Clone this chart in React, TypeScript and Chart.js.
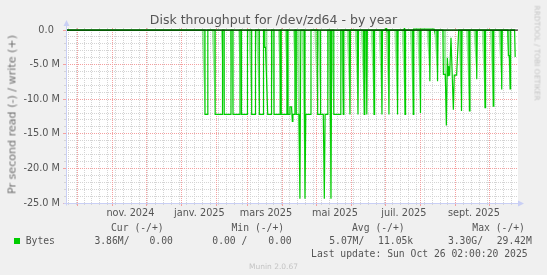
import React, { useEffect, useRef } from 'react';
import { Chart, registerables } from 'chart.js';

Chart.register(...registerables);

// ---- time axis: days since 2024-09-21 (graph spans 400 days, last update 2025-10-26)
const START = Date.UTC(2024, 8, 21);
const SPAN_DAYS = 400;
const dayOf = (y: number, m: number, d: number) => (Date.UTC(y, m - 1, d) - START) / 86400000;

const xLabels = ['nov. 2024', 'janv. 2025', 'mars 2025', 'mai 2025', 'juil. 2025', 'sept. 2025'];
const xLabelMonths: [number, number][] = [[2024, 11], [2025, 1], [2025, 3], [2025, 5], [2025, 7], [2025, 9]];
const monthGrid: [number, number][] = [
  [2024, 10], [2024, 11], [2024, 12], [2025, 1], [2025, 2], [2025, 3], [2025, 4],
  [2025, 5], [2025, 6], [2025, 7], [2025, 8], [2025, 9], [2025, 10],
];
const yMajorTicks = [-25, -20, -15, -10, -5, 0];

// ---- read (plotted negative), in M bytes/s, change points
const readDay = [
  0, 123, 123, 125.5, 125.5, 132, 132, 138.5, 138.5, 140, 140, 146, 146,
  147.8, 147.8, 154, 154, 155.3, 155.3, 160.6, 160.6, 164.3, 164.3, 167.7, 167.7,
  171.1, 171.1, 174.8, 174.8, 175.5, 175.5, 176.6, 178.5, 181.9, 181.9,
  184.1, 184.1, 189.5, 189.5, 190.5, 190.5, 195.5, 195.5, 196.5, 196.5, 197.8,
  198.2, 199.6, 200.3, 200.8, 202.6, 202.6, 203.8, 203.8, 206.2, 207, 207.8,
  210.8, 211.5, 212.2, 216.8, 216.8, 222.7, 222.7, 224.8, 224.8, 225.5, 225.5,
  227.7, 228.6, 229.3, 231.7, 231.7, 233.8, 234.5, 235.2, 237, 237, 243.2, 243.2,
  244.9, 245.4, 245.9, 250.8, 251.3, 251.8, 257.9, 258.4, 258.9,
  263.4, 263.9, 264.4, 265.7, 266.2, 266.7, 272.1, 272.6, 273.1,
  279.1, 279.6, 280.1, 285.3, 285.8, 286.3, 292.9, 293.4, 293.9,
  299.5, 300, 300.5, 306.8, 307.3, 307.8, 313.2, 313.7, 314.2,
  321.5, 322, 322.5, 328.3, 328.8, 329.3,
  333.5, 334, 335.7, 336.6, 337.5, 338.2, 338.6, 339.5, 340.7, 342.8, 343.6, 345.7, 347.5,
  349.5, 350, 350.5, 356.5, 357, 357.5, 363, 363.5, 364, 370.3, 370.8, 371.3,
  377.6, 378.1, 378.6, 385.1, 385.6, 386.1,
  391, 391.5, 392.5, 393, 393.5, 397, 397.5,
];
const readMB = [
  0, 0, -12.2, -12.2, 0, 0, -12.2, -12.2, 0, 0, -12.2, -12.2, 0,
  0, -12.2, -12.2, 0, 0, -12.2, -12.2, 0, 0, -12.2, -12.2, 0,
  0, -12.2, -12.2, 0, 0, -2.5, -2.5, -12.2, -12.2, 0,
  0, -12.2, -12.2, 0, 0, -12.2, -12.2, 0, 0, -12.2, -12.2,
  -11.1, -11.1, -13.2, -12.2, -12.2, 0, 0, -12.2, -12.2, -24.4, 0,
  0, -24.4, -12.2, -12.2, 0, 0, -12.2, -12.2, 0, 0, -12.2,
  -12.2, -24.4, -12.2, -12.2, 0, 0, -24.4, 0, 0, -12.2, -12.2, 0,
  0, -12.2, 0, 0, -12.2, 0, 0, -12.2, 0,
  0, -12.2, 0, 0, -12.2, 0, 0, -12.2, 0,
  0, -12.2, 0, 0, -12.2, 0, 0, -12.2, 0,
  0, -12.2, 0, 0, -12.2, 0, 0, -12.0, 0,
  0, -7.4, 0, 0, -7.4, 0,
  0, -6.4, -6.4, -13.8, -4.0, -6.6, -5.2, -6.6, -1.1, -11.5, -6.5, -6.5, 0,
  0, -11.7, 0, 0, -11.7, 0, 0, -7.1, 0, 0, -11.2, 0,
  0, -11.0, 0, 0, -8.6, 0,
  0, -3.7, -3.7, -8.5, 0, 0, -3.9,
];

// ---- pale shading seen just before each drop: [day of drop, depth in M]
const hazeDay = [
  123, 132, 140, 147.8, 155.3, 164.3, 171.1, 178.5, 184.1, 190.5, 196.5, 203.8, 207, 211.5,
  222.7, 225.5, 234.5, 237, 245.4, 251.3, 258.4, 263.9, 266.2, 272.6, 279.6, 285.8, 293.4,
  300, 307.3, 313.7, 322, 328.8, 336.6, 350, 357, 363.5, 370.8, 378.1, 385.6, 393,
];
const hazeMB = [
  -12.2, -12.2, -12.2, -12.2, -12.2, -12.2, -12.2, -12.2, -12.2, -12.2, -12.2, -12.2, -24.4, -24.4,
  -12.2, -12.2, -24.4, -12.2, -12.2, -12.2, -12.2, -12.2, -12.2, -12.2, -12.2, -12.2, -12.2,
  -12.2, -12.2, -12.0, -7.4, -7.4, -13.8, -11.7, -11.7, -7.1, -11.2, -11.0, -8.6, -8.5,
];

// ---- write (plotted positive), in M bytes/s
const writeDay = [0, 282.6, 283.2, 283.8, 299, 299.4, 299.8, 307.4, 307.6, 325.7, 325.9, 397.5];
const writeMB = [0, 0, 0.3, 0, 0, 0.25, 0, 0, 0.15, 0.15, 0, 0];

// ---- zero rule
const zeroDay = [0, SPAN_DAYS];
const zeroMB = [0, 0];

const GREEN = '#00cc00';
const GRID_MINOR = '#d4d4d4';
const GRID_MAJOR = '#f4a0a0';
const AXIS = '#c9cff5';
const FONT = '"DejaVu Sans", sans-serif';
const MONO = '"DejaVu Sans Mono", monospace';
const TEXT = '#555555';

const bgPlugin = {
  id: 'plotBg',
  beforeDraw(chart: any) {
    const { ctx, chartArea: a } = chart;
    ctx.save();
    ctx.fillStyle = '#f0f0f0';
    ctx.fillRect(0, 0, chart.width, chart.height);
    ctx.fillStyle = '#ffffff';
    ctx.fillRect(a.left, a.top, a.right - a.left, a.bottom - a.top);
    ctx.restore();
  },
  afterDatasetsDraw(chart: any) {
    const { ctx, chartArea: a } = chart;
    ctx.save();
    ctx.strokeStyle = AXIS;
    ctx.fillStyle = AXIS;
    ctx.lineWidth = 1;
    const bx = Math.round(a.left) + 0.5;
    const by = Math.round(a.bottom) + 0.5;
    ctx.beginPath();
    ctx.moveTo(bx, by + 2);
    ctx.lineTo(bx, a.top - 3);
    ctx.moveTo(bx - 3, by);
    ctx.lineTo(a.right + 1, by);
    ctx.stroke();
    ctx.beginPath();
    ctx.moveTo(bx, a.top - 8);
    ctx.lineTo(bx - 3, a.top - 2);
    ctx.lineTo(bx + 3, a.top - 2);
    ctx.closePath();
    ctx.fill();
    ctx.beginPath();
    ctx.moveTo(a.right + 6, by);
    ctx.lineTo(a.right, by - 3);
    ctx.lineTo(a.right, by + 3);
    ctx.closePath();
    ctx.fill();
    ctx.restore();
  },
};

function T(props: { x: number; y: number; children: React.ReactNode; font?: string; size?: number; color?: string; lh?: number }) {
  const { x, y, children, font = MONO, size = 9.72, color = TEXT, lh = 12 } = props;
  return (
    <div
      style={{
        position: 'absolute', left: x, top: y, fontFamily: font, fontSize: size,
        lineHeight: lh + 'px', color, whiteSpace: 'pre',
      }}
    >
      {children}
    </div>
  );
}

export default function App() {
  const ref = useRef<HTMLCanvasElement>(null);

  useEffect(() => {
    const canvas = ref.current;
    if (!canvas) return;
    const pts = (xs: number[], ys: number[]) => xs.map((d, i) => ({ x: d, y: ys[i] }));
    const labelDays = xLabelMonths.map(([y, m]) => dayOf(y, m, 1) + 16);
    const monthDays = monthGrid.map(([y, m]) => dayOf(y, m, 1)).filter((d) => d >= 0 && d <= SPAN_DAYS);
    const weekDays: number[] = [];
    for (let d = dayOf(2024, 9, 23); d <= SPAN_DAYS; d += 7) weekDays.push(d);
    const yMinor: number[] = [];
    for (let v = -25; v <= 0; v += 1) if (v % 5 !== 0) yMinor.push(v);

    // pale wedges: start at 0 a little before the drop, reach the depth at the drop
    const haze: any[] = [];
    hazeDay.forEach((d, i) => {
      haze.push({ x: d - 3, y: 0 }, { x: d, y: hazeMB[i] }, { x: d, y: 0 }, { x: d + 0.01, y: null });
    });

    const lineDs = (data: any, color: string, width: number) => ({
      data, borderColor: color, borderWidth: width, pointRadius: 0, tension: 0, fill: false,
      borderJoinStyle: 'miter' as const,
    });

    const chart = new Chart(canvas, {
      type: 'line',
      data: {
        datasets: [
          lineDs(pts(zeroDay, zeroMB), '#000000', 1),
          lineDs(pts(writeDay, writeMB), GREEN, 1.2),
          lineDs(pts(readDay, readMB), GREEN, 1.2),
          {
            data: haze, borderWidth: 0, borderColor: 'rgba(0,0,0,0)', pointRadius: 0, tension: 0,
            fill: 'origin', backgroundColor: 'rgba(0,204,0,0.4)', spanGaps: false,
          },
        ],
      },
      options: {
        animation: false,
        responsive: false,
        devicePixelRatio: 1,
        events: [],
        layout: { padding: { top: 28, right: 29, left: 0, bottom: 0 } },
        plugins: { legend: { display: false }, title: { display: false }, tooltip: { enabled: false } },
        scales: {
          xMinor: {
            type: 'linear', position: 'bottom', min: 0, max: SPAN_DAYS, weight: 0,
            afterBuildTicks: (s: any) => { s.ticks = weekDays.map((v) => ({ value: v })); },
            afterFit: (s: any) => { s.height = 0; },
            grid: { color: GRID_MINOR, drawTicks: true, tickLength: 2, tickColor: GRID_MINOR },
            border: { display: false, dash: [1, 1] },
            ticks: { display: false },
          },
          yMinor: {
            type: 'linear', position: 'left', min: -25, max: 0.3, weight: 0,
            afterBuildTicks: (s: any) => { s.ticks = yMinor.map((v) => ({ value: v })); },
            afterFit: (s: any) => { s.width = 0; },
            grid: { color: GRID_MINOR, drawTicks: true, tickLength: 2, tickColor: GRID_MINOR },
            border: { display: false, dash: [1, 1] },
            ticks: { display: false },
          },
          xMajor: {
            type: 'linear', position: 'bottom', min: 0, max: SPAN_DAYS, weight: 1,
            afterBuildTicks: (s: any) => { s.ticks = monthDays.map((v) => ({ value: v })); },
            afterFit: (s: any) => { s.height = 0; },
            grid: { color: GRID_MAJOR, drawTicks: true, tickLength: 3, tickColor: GRID_MAJOR },
            border: { display: false, dash: [1, 1] },
            ticks: { display: false },
          },
          x: {
            type: 'linear', position: 'bottom', min: 0, max: SPAN_DAYS, weight: 10,
            afterBuildTicks: (s: any) => { s.ticks = labelDays.map((v) => ({ value: v })); },
            afterFit: (s: any) => { s.height = 72; },
            grid: { display: false, drawTicks: false },
            border: { display: false },
            ticks: {
              padding: 5, autoSkip: false, maxRotation: 0, color: TEXT,
              font: { family: FONT, size: 9.72 },
              callback: (_v: any, i: number) => xLabels[i],
            },
          },
          y: {
            type: 'linear', position: 'left', min: -25, max: 0.3, weight: 10,
            afterBuildTicks: (s: any) => { s.ticks = yMajorTicks.map((v) => ({ value: v })); },
            afterFit: (s: any) => { s.width = 66; },
            grid: { color: GRID_MAJOR, drawTicks: true, tickLength: 3, tickColor: GRID_MAJOR },
            border: { display: false, dash: [1, 1] },
            ticks: {
              padding: 3, color: TEXT, font: { family: FONT, size: 9.72 },
              callback: (v: any) => (v === 0 ? '0.0  ' : `${Number(v).toFixed(1)} M`),
            },
          },
        },
      } as any,
      plugins: [bgPlugin],
    });
    return () => chart.destroy();
  }, []);

  return (
    <div style={{ position: 'fixed', left: 0, top: 0, width: 547, height: 275, background: '#f0f0f0', overflow: 'hidden' }}>
      <canvas ref={ref} width={547} height={275} style={{ position: 'absolute', left: 0, top: 0, width: 547, height: 275 }} />
      <div style={{ position: 'absolute', left: 0, top: 11.5, width: 547, textAlign: 'center', fontFamily: FONT, fontSize: 12.5, lineHeight: '15px', color: TEXT }}>
        Disk throughput for /dev/zd64 - by year
      </div>
      <div style={{ position: 'absolute', left: 11.5 - 100, top: 114 - 6.5, width: 200, height: 13, textAlign: 'center', fontFamily: FONT, fontSize: 11.1, fontWeight: 'normal', lineHeight: '13px', color: '#707070', transform: 'rotate(-90deg)', whiteSpace: 'pre' }}>
        Pr second read (-) / write (+)
      </div>
      <div style={{ position: 'absolute', left: 536.5 - 60, top: 5 + 60 - 4.5, width: 120, height: 9, textAlign: 'left', fontFamily: FONT, fontSize: 7.4, lineHeight: '9px', color: '#c4c4c4', transform: 'rotate(90deg)', whiteSpace: 'pre' }}>
        RRDTOOL / TOBI OETIKER
      </div>

      <T x={111} y={222.3}>Cur (-/+)</T>
      <T x={231.5} y={222.3}>Min (-/+)</T>
      <T x={352} y={222.3}>Avg (-/+)</T>
      <T x={472.3} y={222.3}>Max (-/+)</T>

      <div style={{ position: 'absolute', left: 14, top: 238.3, width: 6, height: 6, background: GREEN }} />
      <T x={25.7} y={235}>Bytes</T>
      <T x={94.4} y={235}>3.86M/</T>
      <T x={149.5} y={235}>0.00</T>
      <T x={212.3} y={235}>0.00 /</T>
      <T x={268.2} y={235}>0.00</T>
      <T x={329.2} y={235}>5.07M/</T>
      <T x={378.1} y={235}>11.05k</T>
      <T x={447.9} y={235}>3.30G/</T>
      <T x={496.7} y={235}>29.42M</T>

      <T x={311.1} y={247.7}>Last update: Sun Oct 26 02:00:20 2025</T>

      <div style={{ position: 'absolute', left: 0, top: 261.8, width: 547, textAlign: 'center', fontFamily: FONT, fontSize: 7.5, lineHeight: '9px', color: '#c4c4c4' }}>
        Munin 2.0.67
      </div>
    </div>
  );
}
